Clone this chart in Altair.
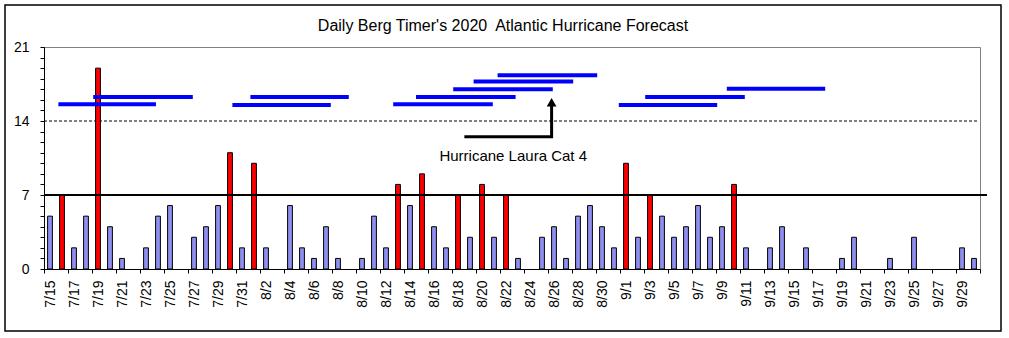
import json
import altair as alt
import pandas as pd

# ---- data -------------------------------------------------------------
dates = ([f"7/{d}" for d in range(15, 32)] +
         [f"8/{d}" for d in range(1, 32)] +
         [f"9/{d}" for d in range(1, 31)])

values = [5, 7, 2, 5, 19, 4, 1, 0, 2, 5, 6, 0, 3, 4, 6, 11, 2,       # 7/15-7/31
          10, 2, 0, 6, 2, 1, 4, 1, 0, 1, 5, 2, 8, 6, 9, 4, 2, 7, 3,  # 8/1-8/19
          8, 3, 7, 1, 0, 3, 4, 1, 5, 6, 4, 2,                        # 8/20-8/31
          10, 3, 7, 5, 3, 4, 6, 3, 4, 8, 2, 0, 2, 4, 0, 2, 0, 0,     # 9/1-9/18
          1, 3, 0, 0, 1, 0, 3, 0, 0, 0, 2, 1]                        # 9/19-9/30

# forecast range segments (day-index units, from the 7/15 boundary)
seg_start = [1.2, 4.1, 15.7, 17.2, 29.1, 31.0, 34.1, 35.8, 37.8, 47.9, 50.1, 56.9]
seg_end = [9.33, 12.4, 23.9, 25.4, 37.4, 39.3, 42.4, 44.1, 46.1, 56.1, 58.4, 65.1]
seg_level = [15.58, 16.28, 15.52, 16.28, 15.58, 16.26, 17.0, 17.74, 18.32, 15.52, 16.28, 17.04]

arrow_x = [35.03, 42.3, 42.3]
arrow_y = [12.5, 12.5, 15.45]
head_x = [42.3]
head_y = [15.78]

note_x = [39.1]
note_y = [10.7]
note_text = ["Hurricane Laura Cat 4"]

title_text = "Daily Berg Timer's 2020\u00a0 Atlantic Hurricane Forecast"
ref_solid = [7]
ref_dashed = [14]

# ---- tables -----------------------------------------------------------
bars = pd.DataFrame({"idx": list(range(len(dates))), "date": dates, "value": values})
bars = bars[bars["value"] > 0]
segs = pd.DataFrame({"x0": seg_start, "x1": seg_end, "y": seg_level})
arrow = pd.DataFrame({"x": arrow_x, "y": arrow_y, "o": list(range(len(arrow_x)))})
head = pd.DataFrame({"x": head_x, "y": head_y})
note = pd.DataFrame({"x": note_x, "y": note_y, "t": note_text})

FONT = "Liberation Sans"
N = len(dates)

label_js = json.dumps(dates)
xscale = alt.Scale(domain=[0, N], nice=False, zero=False)
yscale = alt.Scale(domain=[0, 21], nice=False)
xaxis = alt.Axis(values=list(range(0, N + 1, 2)),
                 labelExpr=f"datum.value < {N} ? {label_js}[datum.value] : ''",
                 labelAngle=270, labelOffset=6, tickSize=4, labelPadding=7,
                 labelOverlap=False, labelFontSize=14, title=None, grid=False)
yaxis = alt.Axis(values=list(range(0, 22)),
                 labelExpr="datum.value % 7 === 0 ? datum.label : ''",
                 tickSize=4, labelPadding=11, labelOverlap=False,
                 labelFontSize=14, title=None, grid=False)


def X(f):
    return alt.X(f, type="quantitative", scale=xscale, axis=xaxis, title=None)


def Y(f):
    return alt.Y(f, type="quantitative", scale=yscale, axis=yaxis, title=None)


base_bars = alt.Chart(bars).transform_calculate(
    x0="datum.idx + 0.3", x1="datum.idx + 0.7",
    col="datum.value >= 7 ? 'red' : 'blue'")

bar_layer = base_bars.mark_bar(stroke="black", strokeWidth=1).encode(
    x=X("x0:Q"), x2="x1:Q",
    y=Y("value:Q"), y2=alt.datum(0),
    fill=alt.Fill("col:N", scale=alt.Scale(domain=["red", "blue"],
                                            range=["#FF0000", "#8F8FF0"]),
                  legend=None))

dashed = alt.Chart(pd.DataFrame({"v": ref_dashed})).mark_rule(
    color="black", strokeWidth=1, strokeDash=[3, 2]).encode(
    y=Y("v:Q"), x=alt.value(0), x2=alt.value(934))

solid = alt.Chart(pd.DataFrame({"v": ref_solid})).mark_rule(
    color="black", strokeWidth=2).encode(
    y=Y("v:Q"), x=alt.value(0), x2=alt.value(943))

seg_layer = alt.Chart(segs).mark_rule(color="#0000FF", strokeWidth=4).encode(
    x=X("x0:Q"), x2="x1:Q", y=Y("y:Q"))

arrow_layer = alt.Chart(arrow).mark_line(color="black", strokeWidth=3,
                                         strokeJoin="miter").encode(
    x=X("x:Q"), y=Y("y:Q"), order="o:Q")

head_layer = alt.Chart(head).mark_point(shape="triangle-up", filled=True,
                                        color="black", size=95, opacity=1).encode(
    x=X("x:Q"), y=Y("y:Q"))

note_layer = alt.Chart(note).mark_text(font=FONT, fontSize=15, color="black",
                                       align="center", baseline="middle").encode(
    x=X("x:Q"), y=Y("y:Q"), text="t:N")

title_layer = alt.Chart(pd.DataFrame({"t": [title_text]})).mark_text(
    font=FONT, fontSize=16, color="black", align="center", baseline="middle").encode(
    x=alt.value(459), y=alt.value(-21), text="t:N")

border = alt.Chart(pd.DataFrame({"t": [0]})).mark_rect(
    fill=None, stroke="black", strokeWidth=1.5).encode(
    x=alt.value(-39), x2=alt.value(957), y=alt.value(-42), y2=alt.value(284))

chart = alt.layer(border, dashed, bar_layer, solid, seg_layer, arrow_layer,
                  head_layer, note_layer, title_layer).properties(
    width=936, height=222,
    autosize=alt.AutoSizeParams(type="none"),
    padding={"left": 44, "top": 47, "right": 29, "bottom": 69},
    background="white",
).configure_view(stroke="#808080", strokeWidth=1).configure_axis(
    domainColor="black", tickColor="black", labelColor="black",
    labelFont=FONT, domainWidth=1, tickWidth=1)

chart.save("out.html", embed_options={"renderer": "svg", "actions": False})
